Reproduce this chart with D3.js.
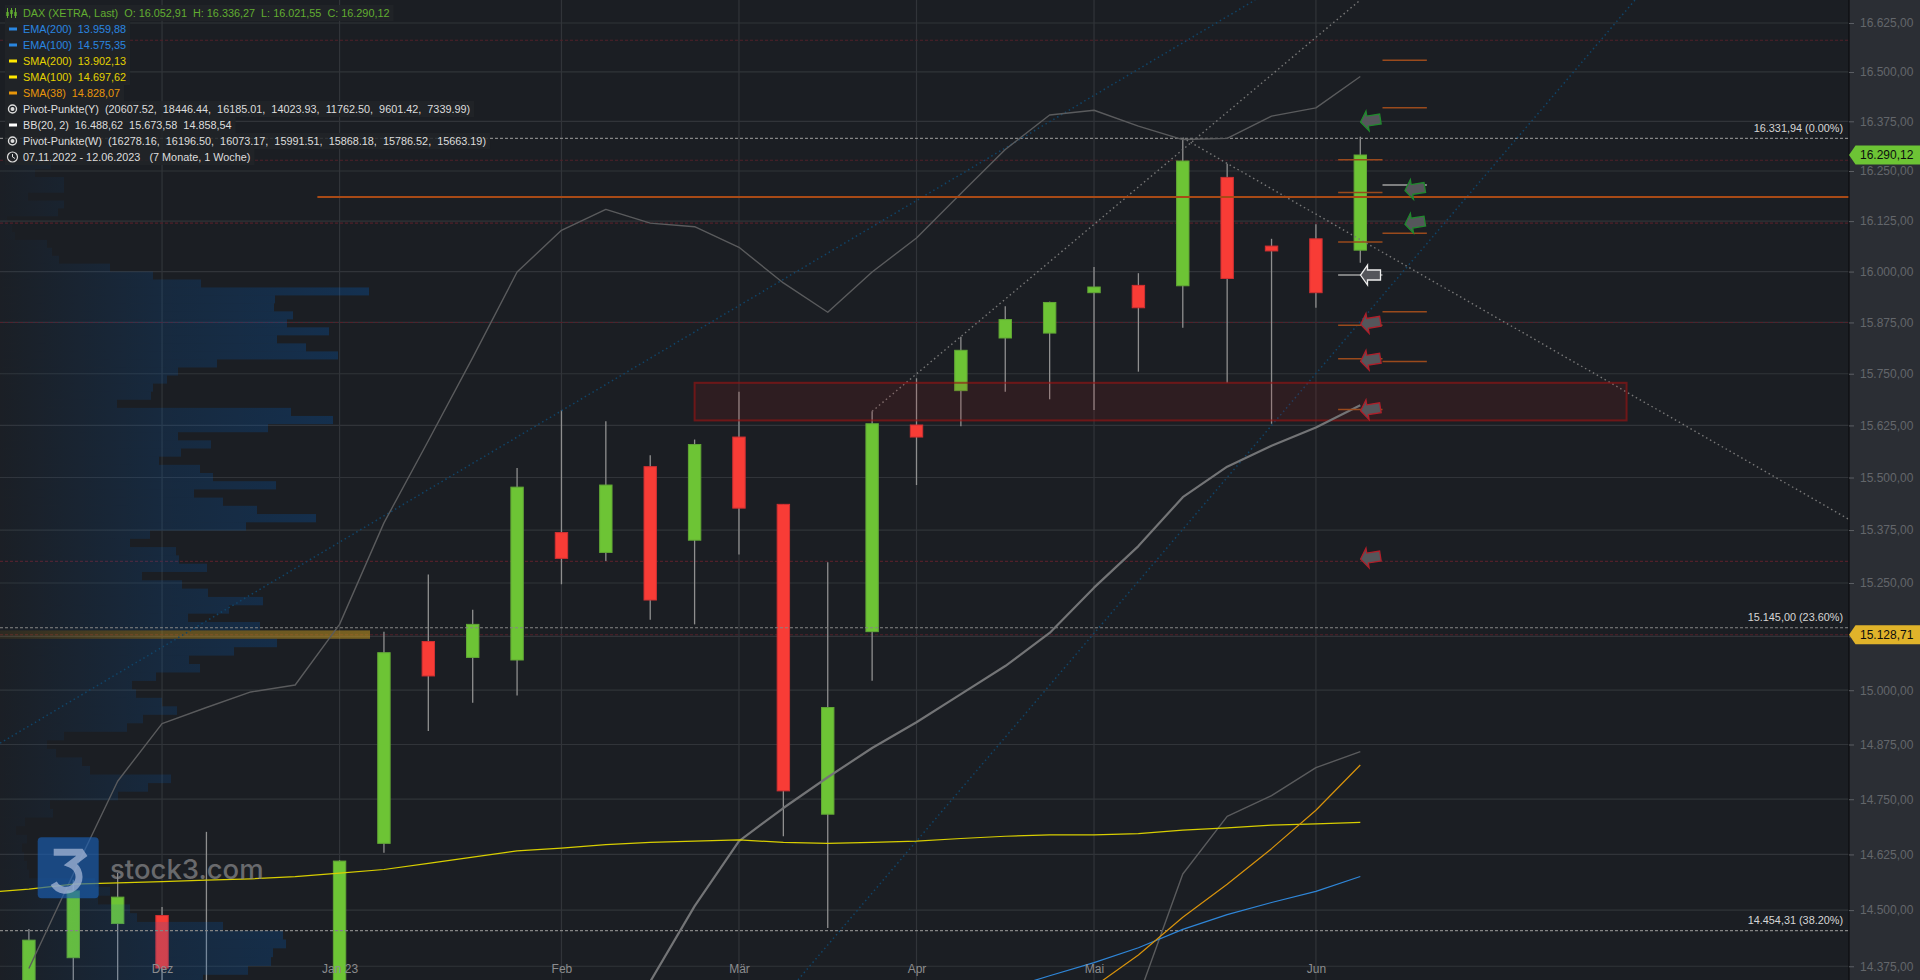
<!DOCTYPE html>
<html>
<head>
<meta charset="utf-8">
<title>DAX</title>
<script src="https://cdnjs.cloudflare.com/ajax/libs/d3/7.8.5/d3.min.js"></script>
<style>
  html, body { margin: 0; padding: 0; background: #1b1e23; overflow: hidden; }
  svg { display: block; font-family: "Liberation Sans", Arial, sans-serif; }
  text { white-space: pre; }
</style>
</head>
<body>
<svg id="chart" width="1920" height="980"></svg>
<script>
"use strict";

// weekly candles, index 0 = week of 07.11.2022, last = week of 05.06.2023
const opens = [14210, 14394, 14470, 14488, 14330, 14300, 14050, 14050, 14650, 15113, 15076, 15070, 15369, 15322, 15526, 15351,
  15597, 15436, 14716, 15136, 15626, 15709, 15837, 15849, 15948, 15966, 15965, 16234, 16063, 16081, 16052.91];
const highs = [14458, 14568, 14583, 14507, 14676, 14340, 14200, 14612, 15136, 15270, 15187, 15523, 15662, 15635, 15553, 15591,
  15706, 15436, 15299, 15659, 15739, 15840, 15915, 15926, 16011, 15996, 16333, 16268, 16081, 16117, 16336.27];
const lows = [14180, 14290, 14330, 14320, 14280, 14000, 13800, 14000, 14629, 14906, 14971, 14988, 15247, 15302, 15164, 15153,
  15317, 14666, 14460, 15022, 15482, 15623, 15706, 15688, 15662, 15755, 15862, 15728, 15629, 15911, 16021.55];
const closes = [14433, 14543, 14529, 14371, 14300, 14000, 13900, 14610, 15087, 15033, 15153, 15477, 15308, 15482, 15210, 15579,
  15427, 14769, 14960, 15629, 15597, 15807, 15882, 15924, 15962, 15911, 16275, 15983, 16051, 15948, 16290.12];

const monthIdx = [3, 7, 12, 16, 20, 24, 29];
const monthLabels = ["Dez", "Jan 23", "Feb", "Mär", "Apr", "Mai", "Jun"];
const priceTicks = [16625, 16500, 16375, 16250, 16125, 16000, 15875, 15750, 15625, 15500, 15375, 15250, 15125, 15000, 14875, 14750, 14625, 14500, 14375];

// indicators, each starts at the given candle index
const bbUpper = [14370, 14581, 14791, 14923, 14960, 14996, 15012, 15153, 15392, 15588, 15789, 15999, 16102, 16154, 16120, 16111,
  16060, 15972, 15900, 15999, 16083, 16194, 16304, 16391, 16403, 16363, 16329, 16332, 16388, 16409, 16488.62];
const bbMid = [14230, 14341, 14509, 14655, 14730, 14800, 14867, 14926, 14991, 15056, 15133, 15239, 15337, 15453, 15526, 15576, 15620, 15673.58];
const bbMidStart = 13;
const bbLower = [14307, 14581, 14711, 14758, 14822, 14858.54];
const bbLowerStart = 25;
const sma38 = [14330, 14400, 14484, 14558, 14638, 14725, 14828.07];
const sma38Start = 24;
const ema100 = [14324, 14354, 14383, 14416, 14457, 14490, 14517, 14542, 14575.35];
const ema100Start = 22;
const sma100 = [14539, 14547, 14558, 14561, 14564, 14567, 14570, 14575, 14583, 14591, 14605, 14619, 14633, 14639, 14647, 14652,
  14655, 14658, 14652, 14650, 14652, 14655, 14661, 14666, 14669, 14669, 14672, 14680, 14685, 14691, 14694, 14697.62];
const sma100Start = -1;

// levels
const fibLevels = [16331.94, 15145.00, 14454.31];
const fibLabels = ["16.331,94 (0.00%)", "15.145,00 (23.60%)", "14.454,31 (38.20%)"];
const pivotDotted = [16581, 16277, 16120, 15875, 15301, 15128.71];
const yearPivot = 16185.01;
const weekPivotsNow = [16278.16, 16196.50, 16073.17, 15991.51, 15868.18, 15786.52, 15663.19];
const weekPivotsNext = [16530, 16409, 16215, 16095, 15901, 15780];
const zonePrices = [15728, 15637];
const zoneIdx = [15, 36];

// trend lines as [candle index, price]
const trendUp = [[19, 15659], [30, 16684]];
const trendDown = [[26, 16333], [41, 15401]];
const blueTrendA = [[-0.65, 14878], [27.63, 16684]];
const blueTrendB = [[17.33, 14345], [36.19, 16684]];

// arrows
const arrowIdx = [30.23, 31.23, 31.23, 30.23, 30.23, 30.23, 30.23, 30.23];
const arrowPrice = [16377, 16205, 16121, 15991.5, 15874, 15784, 15664, 15310];
const arrowKind = ["up", "up", "up", "mid", "down", "down", "down", "down"];

// volume profile, bins of about 19.6 points from the top row down
const profileTop = 16274;
const profileStep = 19.57;
const profile = [51, 35, 64, 64, 28, 64, 58, 7, 12, 15, 47, 52, 59, 110, 153, 201, 369, 275, 274, 293, 287, 329, 277, 306, 338,
  217, 178, 167, 153, 151, 117, 291, 333, 268, 178, 211, 181, 159, 200, 213, 276, 194, 223, 257, 316, 246, 150, 130, 176, 179,
  207, 142, 182, 208, 263, 229, 188, 260, 370, 277, 234, 189, 200, 156, 132, 136, 162, 177, 143, 127, 64, 47, 56, 82, 90, 171,
  148, 118, 50, 53, 25, 16, 27, 22, 24, 27, 29, 95, 110, 98, 130, 137, 223, 283, 286, 273, 271, 248, 203];

// legend rows
const legendText = [
  "DAX (XETRA, Last)  O: 16.052,91  H: 16.336,27  L: 16.021,55  C: 16.290,12",
  "EMA(200)  13.959,88",
  "EMA(100)  14.575,35",
  "SMA(200)  13.902,13",
  "SMA(100)  14.697,62",
  "SMA(38)  14.828,07",
  "Pivot-Punkte(Y)  (20607.52,  18446.44,  16185.01,  14023.93,  11762.50,  9601.42,  7339.99)",
  "BB(20, 2)  16.488,62  15.673,58  14.858,54",
  "Pivot-Punkte(W)  (16278.16,  16196.50,  16073.17,  15991.51,  15868.18,  15786.52,  15663.19)",
  "07.11.2022 - 12.06.2023   (7 Monate, 1 Woche)"
];
const legendColor = ["#62ad31", "#2a86e0", "#2a86e0", "#e4d200", "#e4d200", "#e8960a", "#dddddd", "#dddddd", "#dddddd", "#dddddd"];
const legendIcon = ["candle", "dash", "dash", "dash", "dash", "dash", "ring", "dash", "ring", "clock"];

const width = 1920;
const height = 980;
const plotRight = 1849;

const svg = d3.select("#chart");

const x = d3.scaleLinear().domain([0, 30]).range([28.9, 1360.3]);
const y = d3.scaleLog().domain([16684.1, 14344.6]).range([0, height]);
const de = d3.formatLocale({ decimal: ",", thousands: ".", grouping: [3], currency: ["", "€"] });
const priceFmt = de.format(",.2f");

svg.append("rect").attr("width", width).attr("height", height).attr("fill", "#1b1e23");

// gradients for the volume profile
const defs = svg.append("defs");
defs.append("clipPath").attr("id", "plotClip").append("rect").attr("width", plotRight).attr("height", height);

function hGradient(id, stops) {
  const g = defs.append("linearGradient").attr("id", id).attr("gradientUnits", "userSpaceOnUse")
    .attr("x1", 0).attr("x2", 370).attr("y1", 0).attr("y2", 0);
  stops.forEach(function(s) {
    g.append("stop").attr("offset", s[0]).attr("stop-color", s[1]).attr("stop-opacity", s[2]);
  });
}
hGradient("volBlue", [[0, "#0064cd", 0.015], [0.43, "#0064cd", 0.16], [1, "#0064cd", 0.27]]);
hGradient("volGold", [[0, "#c89a20", 0.1], [0.45, "#c89a20", 0.38], [1, "#c89a20", 0.55]]);

const plot = svg.append("g").attr("clip-path", "url(#plotClip)");

// grid
plot.append("g").selectAll("line").data(priceTicks).join("line")
  .attr("x1", 0).attr("x2", plotRight).attr("y1", d => y(d)).attr("y2", d => y(d))
  .attr("stroke", "#313439").attr("stroke-width", 1.2);
plot.append("g").selectAll("line").data(monthIdx).join("line")
  .attr("x1", d => x(d)).attr("x2", d => x(d)).attr("y1", 0).attr("y2", height)
  .attr("stroke", "#313439").attr("stroke-width", 1.2);

// dotted levels sit under the candles
plot.append("g").selectAll("line").data(pivotDotted).join("line")
  .attr("x1", 0).attr("x2", plotRight).attr("y1", d => y(d)).attr("y2", d => y(d))
  .attr("stroke", "#52202a").attr("stroke-width", 1.1).attr("stroke-dasharray", "3,2");

// candles
const candles = d3.range(opens.length).map(function(i) {
  return { i: i, o: opens[i], h: highs[i], l: lows[i], c: closes[i] };
});
const candleW = 12.4;
plot.append("g").selectAll("line").data(candles).join("line")
  .attr("x1", d => x(d.i)).attr("x2", d => x(d.i)).attr("y1", d => y(d.h)).attr("y2", d => y(d.l))
  .attr("stroke", "#8f8f8f").attr("stroke-width", 1.3);
plot.append("g").selectAll("rect").data(candles).join("rect")
  .attr("x", d => x(d.i) - candleW / 2).attr("width", candleW)
  .attr("y", d => y(Math.max(d.o, d.c))).attr("height", d => Math.abs(y(d.o) - y(d.c)))
  .attr("fill", d => d.c >= d.o ? "#6dc435" : "#f83c36")
  .attr("stroke", d => d.c >= d.o ? "#62a736" : "#d03032").attr("stroke-width", 1);

// volume profile lies over the candles
const xVol = d3.scaleLinear().domain([0, d3.max(profile)]).range([0, 370]);
const pocIndex = d3.maxIndex(profile);
plot.append("g").selectAll("rect").data(profile).join("rect")
  .attr("x", 0).attr("width", d => xVol(d))
  .attr("y", (d, i) => y(profileTop - i * profileStep))
  .attr("height", (d, i) => y(profileTop - (i + 1) * profileStep) - y(profileTop - i * profileStep))
  .attr("fill", (d, i) => i === pocIndex ? "url(#volGold)" : "url(#volBlue)");

plot.append("g").selectAll("line").data(fibLevels).join("line")
  .attr("x1", 0).attr("x2", plotRight).attr("y1", d => y(d)).attr("y2", d => y(d))
  .attr("stroke", "#858585").attr("stroke-width", 1.1).attr("stroke-dasharray", "3,2");

// trend lines
const trendLine = d3.line().x(d => x(d[0])).y(d => y(d[1]));
[trendUp, trendDown].forEach(function(t) {
  plot.append("path").attr("d", trendLine(t)).attr("fill", "none")
    .attr("stroke", "#787878").attr("stroke-width", 1.4).attr("stroke-dasharray", "1.5,3");
});
[blueTrendA, blueTrendB].forEach(function(t) {
  plot.append("path").attr("d", trendLine(t)).attr("fill", "none")
    .attr("stroke", "#104468").attr("stroke-width", 1.5).attr("stroke-dasharray", "1.5,3");
});

// zone
plot.append("rect")
  .attr("x", x(zoneIdx[0])).attr("width", x(zoneIdx[1]) - x(zoneIdx[0]))
  .attr("y", y(zonePrices[0])).attr("height", y(zonePrices[1]) - y(zonePrices[0]))
  .attr("fill", "rgba(180,20,20,0.13)").attr("stroke", "rgba(150,20,20,0.65)").attr("stroke-width", 2);

// indicator lines
function indicator(values, start, color, w) {
  const line = d3.line().x((d, i) => x(start + i)).y(d => y(d));
  plot.append("path").attr("d", line(values)).attr("fill", "none")
    .attr("stroke", color).attr("stroke-width", w).attr("stroke-linejoin", "round");
}
indicator(bbUpper, 0, "#5a5b5d", 1.4);
indicator(bbLower, bbLowerStart, "#5a5b5d", 1.4);
indicator(bbMid, bbMidStart, "#737476", 2.2);
indicator(ema100, ema100Start, "#2f86d8", 1.2);
indicator(sma100, sma100Start, "#d8ce00", 1.2);
indicator(sma38, sma38Start, "#d8930c", 1.2);

// pivots
plot.append("line").attr("x1", x(6.5)).attr("x2", plotRight).attr("y1", y(yearPivot)).attr("y2", y(yearPivot))
  .attr("stroke", "#a84a16").attr("stroke-width", 2);
const pivotColor = d => Math.abs(d - 15991.51) < 1 || Math.abs(d - 16215) < 1 ? "#a0a0a0" : "#9a4a1c";
plot.append("g").selectAll("line").data(weekPivotsNow).join("line")
  .attr("x1", x(29.5)).attr("x2", x(30.5)).attr("y1", d => y(d)).attr("y2", d => y(d))
  .attr("stroke", pivotColor).attr("stroke-width", 1.5);
plot.append("g").selectAll("line").data(weekPivotsNext).join("line")
  .attr("x1", x(30.5)).attr("x2", x(31.5)).attr("y1", d => y(d)).attr("y2", d => y(d))
  .attr("stroke", pivotColor).attr("stroke-width", 1.5);

// arrows
const arrowPath = "M-10,0 L-3,-10 L-3,-5 L10,-5 L10,5 L-3,5 L-3,10 Z";
const arrowStroke = { up: "#1f8a2c", mid: "#eeeeee", down: "#b01f2a" };
plot.append("g").selectAll("path").data(d3.range(arrowIdx.length)).join("path")
  .attr("d", arrowPath)
  .attr("transform", i => "translate(" + x(arrowIdx[i]) + "," + y(arrowPrice[i]) + ") rotate(" + (arrowKind[i] === "mid" ? 0 : -9) + ")")
  .attr("fill", "#55565b")
  .attr("stroke", i => arrowStroke[arrowKind[i]]).attr("stroke-width", 1.3);

// fib labels
plot.append("g").selectAll("text").data(fibLevels).join("text")
  .attr("x", 1843).attr("y", d => y(d) - 6.5).attr("text-anchor", "end")
  .attr("font-size", 10.85).attr("fill", "#d6d6d6").text((d, i) => fibLabels[i]);

// time axis
const timeAxis = d3.axisBottom(x).tickValues(monthIdx).tickFormat((d, i) => monthLabels[i]).tickSize(0).tickPadding(6);
const timeG = plot.append("g").attr("transform", "translate(0,958)").call(timeAxis);
timeG.select(".domain").remove();
timeG.selectAll("text").attr("fill", "#8b8c8e").attr("font-size", 12).attr("font-family", "Liberation Sans");

// logo
const logo = svg.append("g").attr("transform", "translate(37.7,837.3)");
logo.append("rect").attr("width", 61).attr("height", 61).attr("rx", 4).attr("fill", "#1a5fb4").attr("opacity", 0.65);
logo.append("path").attr("d", "M16,15 H43 L45,18 L33,27 A 13.5 13.5 0 1 1 16,46")
  .attr("fill", "none").attr("stroke", "#a4b6d6").attr("stroke-width", 7).attr("opacity", 0.75);
svg.append("text").attr("x", 110).attr("y", 879).attr("font-family", "Inter").attr("font-weight", 500)
  .attr("font-size", 27.5).attr("fill", "#8a8b8d").attr("opacity", 0.7).text("stock3.com");

// price axis
svg.append("rect").attr("x", plotRight).attr("width", width - plotRight).attr("height", height).attr("fill", "#2b2e34");
svg.append("line").attr("x1", plotRight).attr("x2", plotRight).attr("y1", 0).attr("y2", height)
  .attr("stroke", "#0c0d0f").attr("stroke-width", 1.2);
const priceAxis = d3.axisRight(y).tickValues(priceTicks).tickFormat(priceFmt).tickSize(5).tickPadding(6);
const axisG = svg.append("g").attr("transform", "translate(" + plotRight + ",0)").call(priceAxis);
axisG.select(".domain").remove();
axisG.selectAll("line").attr("stroke", "#5c5f64");
axisG.selectAll("text").attr("fill", "#63666b").attr("font-size", 12).attr("font-family", "Liberation Sans");

// current value tags
function priceTag(value, color) {
  const py = y(value);
  const g = svg.append("g").attr("transform", "translate(" + plotRight + "," + py + ")");
  g.append("path").attr("d", "M0,0 L6.5,-9.5 H" + (width - plotRight) + " V9.5 H6.5 Z").attr("fill", color);
  g.append("text").attr("x", 11).attr("y", 4.3).attr("font-size", 12).attr("fill", "#0c0d0f").text(priceFmt(value));
}
priceTag(15128.71, "#e0b32a");
priceTag(16290.12, "#6dc435");

// legend
const legend = svg.append("g");
legendText.forEach(function(t, i) {
  const cy = 13 + i * 16;
  const row = legend.append("g");
  const bg = row.append("rect").attr("x", 5).attr("y", cy - 8).attr("height", 16).attr("fill", "rgba(33,36,40,0.85)");
  const label = row.append("text").attr("x", 23).attr("y", cy + 4).attr("font-size", 10.85).attr("fill", legendColor[i]).text(t);
  bg.attr("width", label.node().getComputedTextLength() + 22);
  const kind = legendIcon[i];
  if (kind === "dash") {
    row.append("rect").attr("x", 9).attr("y", cy - 1.5).attr("width", 8).attr("height", 3).attr("fill", legendColor[i] === "#dddddd" ? "#ffffff" : (legendColor[i] === "#e4d200" ? "#ffe800" : legendColor[i]));
  } else if (kind === "ring") {
    row.append("circle").attr("cx", 12.5).attr("cy", cy).attr("r", 4).attr("fill", "none").attr("stroke", "#dddddd").attr("stroke-width", 1.4);
    row.append("circle").attr("cx", 12.5).attr("cy", cy).attr("r", 2).attr("fill", "#dddddd");
  } else if (kind === "clock") {
    row.append("circle").attr("cx", 12.5).attr("cy", cy).attr("r", 5).attr("fill", "none").attr("stroke", "#dddddd").attr("stroke-width", 1.2);
    row.append("path").attr("d", "M12.5," + (cy - 3) + " V" + cy + " L15," + (cy + 1.5)).attr("fill", "none").attr("stroke", "#dddddd");
  } else {
    [7.5, 11.5, 15.5].forEach(function(ix, k) {
      row.append("line").attr("x1", ix).attr("x2", ix).attr("y1", cy - 5).attr("y2", cy + 5).attr("stroke", legendColor[i]);
      row.append("rect").attr("x", ix - 1.2).attr("y", cy - 2 + (k === 1 ? -1 : 1)).attr("width", 2.4).attr("height", 4).attr("fill", legendColor[i]);
    });
  }
});
</script>
</body>
</html>
